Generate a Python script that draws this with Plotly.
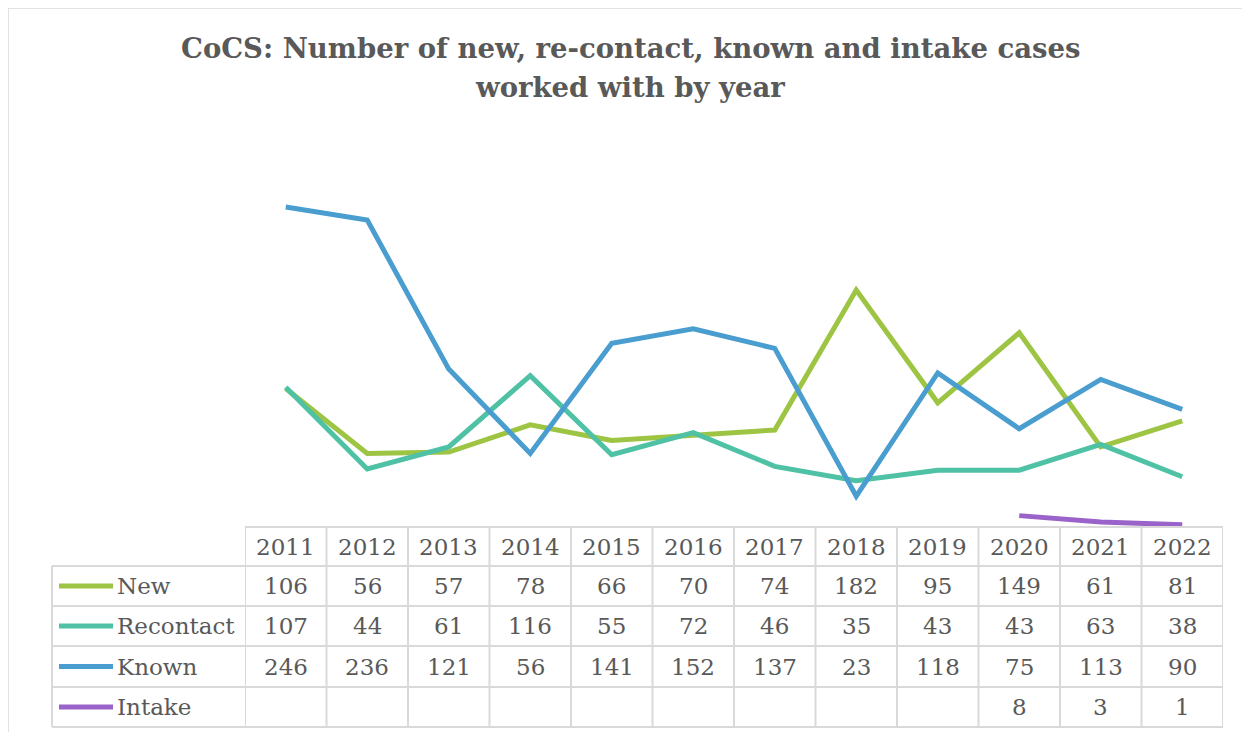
import plotly.graph_objects as go

years = [2011, 2012, 2013, 2014, 2015, 2016, 2017, 2018, 2019, 2020, 2021, 2022]
new = [106, 56, 57, 78, 66, 70, 74, 182, 95, 149, 61, 81]
recontact = [107, 44, 61, 116, 55, 72, 46, 35, 43, 43, 63, 38]
known = [246, 236, 121, 56, 141, 152, 137, 23, 118, 75, 113, 90]
intake = [None, None, None, None, None, None, None, None, None, 8, 3, 1]

series = [
    ("New", new, "#9DC443"),
    ("Recontact", recontact, "#4FC1A5"),
    ("Known", known, "#4A9ECF"),
    ("Intake", intake, "#9A63C9"),
]

W, H = 1250, 732
OFF = 8  # margen del body de la pagina
L, R, T, B = 245 - OFF, 1223 - OFF, 137 - OFF, 526 - OFF  # area del grafico
grey = "#595959"
gridc = "#D9D9D9"
font_tab = dict(family="DejaVu Serif", size=23, color=grey)


def px(x):
    # pixel de la captura -> coordenada paper
    return (x - OFF - L) / (R - L)


def py(y):
    return (B - (y - OFF)) / (B - T)


fig = go.Figure()
for name, vals, color in series:
    fig.add_trace(go.Scatter(x=years, y=vals, mode="lines", name=name,
                             line=dict(color=color, width=5),
                             connectgaps=False, showlegend=False))

shapes = []
annotations = []

# borde exterior del grafico
shapes.append(dict(type="rect", xref="paper", yref="paper",
                   x0=px(8), x1=px(1270), y0=py(8), y1=py(760),
                   line=dict(color=gridc, width=1.5), layer="below"))

# tabla de datos
row_y = [527, 566, 606, 646, 687, 727]
left = 52
shapes.append(dict(type="line", xref="paper", yref="paper",
                   x0=0, x1=1, y0=py(row_y[0]), y1=py(row_y[0]),
                   line=dict(color=gridc, width=2)))
for yy in row_y[1:]:
    shapes.append(dict(type="line", xref="paper", yref="paper",
                       x0=px(left), x1=1, y0=py(yy), y1=py(yy),
                       line=dict(color=gridc, width=2)))
for k in range(len(years) + 1):
    xv = years[0] - 0.5 + k
    shapes.append(dict(type="line", xref="x", yref="paper",
                       x0=xv, x1=xv, y0=py(row_y[0]), y1=py(row_y[-1]),
                       line=dict(color=gridc, width=2)))
shapes.append(dict(type="line", xref="paper", yref="paper",
                   x0=px(left), x1=px(left), y0=py(row_y[1]), y1=py(row_y[-1]),
                   line=dict(color=gridc, width=2)))

# cabecera con los años
hc = (row_y[0] + row_y[1]) / 2
for yr in years:
    annotations.append(dict(x=yr, y=py(hc), xref="x", yref="paper",
                            text=str(yr), showarrow=False, font=font_tab,
                            xanchor="center", yanchor="middle"))

for i, (name, vals, color) in enumerate(series):
    yc = (row_y[i + 1] + row_y[i + 2]) / 2
    # muestra de linea de la leyenda
    shapes.append(dict(type="line", xref="paper", yref="paper",
                       x0=px(59), x1=px(113), y0=py(yc), y1=py(yc),
                       line=dict(color=color, width=5)))
    annotations.append(dict(x=px(115), y=py(yc), xref="paper", yref="paper",
                            text=name, showarrow=False, font=font_tab,
                            xanchor="left", yanchor="middle"))
    for yr, v in zip(years, vals):
        if v is None:
            continue
        annotations.append(dict(x=yr, y=py(yc), xref="x", yref="paper",
                                text=str(v), showarrow=False, font=font_tab,
                                xanchor="center", yanchor="middle"))

# titulo
title_font = dict(family="DejaVu Serif", size=27.5, color=grey)
annotations.append(dict(x=px(630), y=py(48), xref="paper", yref="paper",
                        text="<b>CoCS: Number of new, re-contact, known and intake cases</b>",
                        showarrow=False, font=title_font, xanchor="center", yanchor="middle"))
annotations.append(dict(x=px(630), y=py(87), xref="paper", yref="paper",
                        text="<b>worked with by year</b>",
                        showarrow=False, font=title_font, xanchor="center", yanchor="middle"))

fig.update_layout(
    width=W, height=H,
    margin=dict(l=L, r=W - R, t=T, b=H - B, pad=0),
    paper_bgcolor="white", plot_bgcolor="white",
    shapes=shapes, annotations=annotations,
    xaxis=dict(range=[years[0] - 0.5, years[-1] + 0.5], visible=False, fixedrange=True),
    yaxis=dict(range=[0, 300], visible=False, fixedrange=True),
    showlegend=False,
)

fig.write_html("out.html")
